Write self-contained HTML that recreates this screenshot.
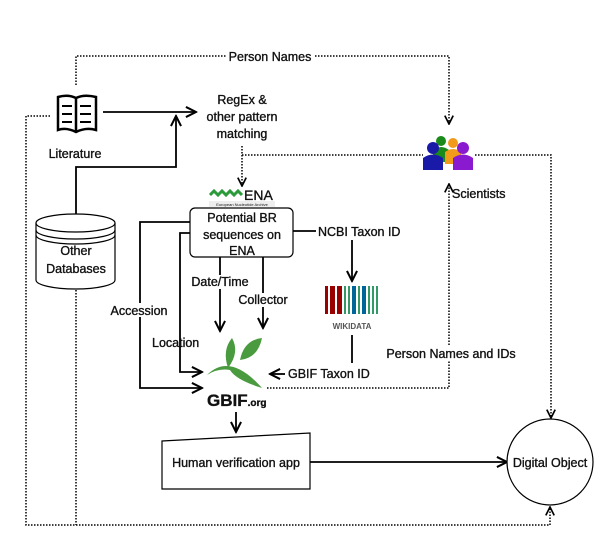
<!DOCTYPE html>
<html><head><meta charset="utf-8"><style>
html,body{margin:0;padding:0;background:#fff;}
svg{display:block;font-family:"Liberation Sans",sans-serif;}
text{font-size:12.5px;fill:#111;stroke:#111;stroke-width:0.35;}
</style></head><body>
<svg width="606" height="547" viewBox="0 0 606 547" xmlns="http://www.w3.org/2000/svg">
<defs>
<marker id="a" viewBox="0 0 10 10" refX="9" refY="5" markerWidth="7" markerHeight="7" orient="auto"><path d="M1,1 L9,5 L1,9" fill="none" stroke="#000" stroke-width="1.6"/></marker>
</defs>
<g fill="none" stroke="#000" stroke-width="1.5" stroke-dasharray="1.5,1.5">
<path d="M76,85 V56 H228"/><path d="M315,56 H449 V124" marker-end="url(#a)"/>
<path d="M50,116 H26 V525 H550 V507" marker-end="url(#a)"/>
<path d="M76,290 V525"/>
<path d="M242,146 V186" marker-end="url(#a)"/>
<path d="M242,155 H423"/>
<path d="M475,155 H551 V418" marker-end="url(#a)"/>
<path d="M267,388 H449 V184" marker-end="url(#a)"/>
</g>
<g fill="none" stroke="#000" stroke-width="1.8">
<path d="M103,112 H196" marker-end="url(#a)"/>
<path d="M76,214 V167 H176 V116" marker-end="url(#a)"/>
<path d="M190,222 H140 V388 H202" marker-end="url(#a)"/>
<path d="M190,233 H180 V372 H202" marker-end="url(#a)"/>
<path d="M220,257 V331" marker-end="url(#a)"/>
<path d="M263,257 V328" marker-end="url(#a)"/>
<path d="M293,231 H316"/>
<path d="M352,240 V281" marker-end="url(#a)"/>
<path d="M352,335 V363"/>
<path d="M285,374 H270" marker-end="url(#a)"/>
<path d="M236,412 V432" marker-end="url(#a)"/>
<path d="M310,462 H507" marker-end="url(#a)"/>
</g>
<g fill="none" stroke="#000" stroke-width="2.5">
<path d="M58,97 Q68,94 76,98 Q84,94 96,97 V130 Q86,127 76,132 Q66,127 58,130 Z"/>
<path d="M76,98 V132"/>
<path d="M62,106 H72 M62,114 H72 M62,122 H72 M80,106 H91 M80,114 H91 M80,122 H91" stroke-width="2"/>
</g>
<text x="75" y="158" text-anchor="middle">Literature</text>
<g fill="#fff" stroke="#000" stroke-width="1.2">
<path d="M36,223 V280 A39.5,9 0 0 0 115,280 V223"/>
<ellipse cx="75.5" cy="223" rx="39.5" ry="9"/>
<path d="M36,230 A39.5,9 0 0 0 115,230 M36,235 A39.5,9 0 0 0 115,235" fill="none"/>
</g>
<text x="76" y="255" text-anchor="middle">Other</text>
<text x="76" y="273" text-anchor="middle">Databases</text>
<rect x="226" y="49" width="88" height="14" fill="#fff"/>
<text x="270" y="61" text-anchor="middle">Person Names</text>
<text x="242" y="104" text-anchor="middle">RegEx &amp;</text>
<text x="242" y="121" text-anchor="middle">other pattern</text>
<text x="242" y="138" text-anchor="middle">matching</text>
<path d="M210,195 l4,-4 4,4 4,-4 4,4 4,-4 4,4 4,-4 4,4" fill="none" stroke="#2a9a3a" stroke-width="3"/>
<text x="244" y="200" style="font-size:14px">ENA</text>
<rect x="209" y="201" width="66" height="6" fill="#eee"/>
<text x="242" y="206" text-anchor="middle" style="font-size:4px;stroke:none">European Nucleotide Archive</text>
<rect x="190" y="208" width="103" height="49" rx="5" fill="#fff" stroke="#000" stroke-width="1.2"/>
<text x="242" y="222" text-anchor="middle">Potential BR</text>
<text x="242" y="239" text-anchor="middle">sequences on</text>
<text x="242" y="255" text-anchor="middle">ENA</text>
<text x="318" y="236">NCBI Taxon ID</text>
<rect x="187" y="275" width="66" height="14" fill="#fff"/>
<text x="220" y="286" text-anchor="middle">Date/Time</text>
<rect x="233" y="293" width="60" height="14" fill="#fff"/>
<text x="263" y="304" text-anchor="middle">Collector</text>
<rect x="105" y="303" width="68" height="14" fill="#fff"/>
<text x="139" y="315" text-anchor="middle">Accession</text>
<text x="152" y="347">Location</text>
<g>
<rect x="325" y="286" width="3" height="28" fill="#990000"/><rect x="330" y="286" width="5" height="28" fill="#990000"/><rect x="337" y="286" width="5" height="28" fill="#990000"/>
<rect x="344" y="286" width="2" height="28" fill="#339966"/><rect x="348" y="286" width="2" height="28" fill="#339966"/>
<rect x="352" y="286" width="4" height="28" fill="#006699"/><rect x="358" y="286" width="2" height="28" fill="#339966"/>
<rect x="362" y="286" width="4" height="28" fill="#006699"/><rect x="368" y="286" width="2" height="28" fill="#339966"/>
<rect x="372" y="286" width="2" height="28" fill="#339966"/><rect x="376" y="286" width="2" height="28" fill="#339966"/>
<text x="352" y="329" text-anchor="middle" style="font-size:8px;fill:#555;stroke:none;font-weight:bold">WIKIDATA</text>
</g>
<text x="288" y="378">GBIF Taxon ID</text>
<g fill="#4a9a3f">
<path d="M232,338 Q222,350 228,368 Q240,352 232,338 Z"/>
<path d="M262,338 Q244,340 240,360 Q258,358 262,338 Z"/>
<path d="M207,375 Q230,352 262,388 Q236,380 230,370 Q218,368 207,375 Z"/>
</g>
<text x="207" y="406" style="font-size:17px;font-weight:bold">GBIF<tspan style="font-size:10px">.org</tspan></text>
<g>
<circle cx="441" cy="141" r="5" fill="#1a8a1a"/><path d="M433,162 V150 Q441,144 449,150 V162 Z" fill="#1a8a1a"/>
<circle cx="453" cy="143" r="5" fill="#f29a1a"/><path d="M445,164 V152 Q453,146 461,152 V164 Z" fill="#f29a1a"/>
<circle cx="433" cy="148" r="6" fill="#1a1aa8"/><path d="M423,170 V158 Q433,151 443,158 V170 Z" fill="#1a1aa8"/>
<circle cx="463" cy="148" r="6" fill="#8a1ad0"/><path d="M453,170 V158 Q463,151 473,158 V170 Z" fill="#8a1ad0"/>
</g>
<text x="452" y="198">Scientists</text>
<rect x="383" y="346" width="136" height="14" fill="#fff"/>
<text x="451" y="358" text-anchor="middle">Person Names and IDs</text>
<path d="M162,441 L310,433 V489 H162 Z" fill="#fff" stroke="#000" stroke-width="1.2"/>
<text x="236" y="467" text-anchor="middle">Human verification app</text>
<circle cx="550" cy="462" r="43" fill="#fff" stroke="#000" stroke-width="1.2"/>
<text x="550" y="467" text-anchor="middle">Digital Object</text>
</svg>
</body></html>
